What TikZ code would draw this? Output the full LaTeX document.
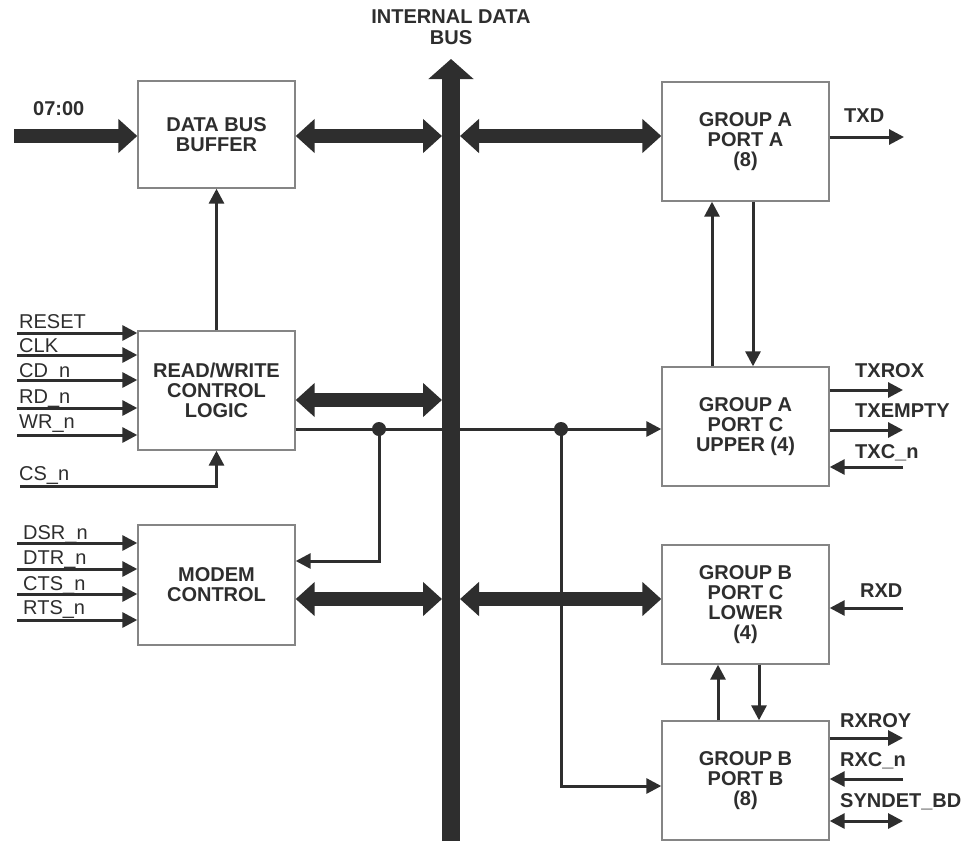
\documentclass[tikz,border=0pt]{standalone}
\usepackage{fontspec}
\setmainfont{Liberation Sans}
\usetikzlibrary{arrows.meta}
\definecolor{ink}{HTML}{2E2E2E}
\definecolor{frame}{HTML}{858585}

\begin{document}
\begin{tikzpicture}[x=1pt,y=-1pt,
  block/.style={draw=frame, line width=1.4pt, fill=white, inner sep=0pt,
    align=center, text=ink, font=\fontsize{20}{20}\selectfont\bfseries},
  lbl/.style={inner sep=0pt, anchor=base west, text=ink,
    font=\fontsize{20}{20}\selectfont},
  blbl/.style={lbl, font=\fontsize{20}{20}\selectfont\bfseries},
  sig/.style={draw=ink, line width=3pt, -{Triangle[width=15pt,length=15pt]}},
  sigboth/.style={draw=ink, line width=3pt,
    {Triangle[width=15pt,length=15pt]}-{Triangle[width=15pt,length=15pt]}},
  fat/.style={draw=ink, line width=14pt, -{Triangle[width=33pt,length=19pt]}},
  fatboth/.style={draw=ink, line width=14pt,
    {Triangle[width=33pt,length=19pt]}-{Triangle[width=33pt,length=19pt]}},
  dot/.style={circle, fill=ink, inner sep=0pt, minimum size=14pt}
]
% canvas
\fill[white] (0,0) rectangle (973,841);
\useasboundingbox (0,0) rectangle (973,841);

% ---------- blocks ----------
\node[block, minimum width=157pt, minimum height=107pt] (dbb)   at (216.5,134.5) {DATA BUS\\BUFFER};
\node[block, minimum width=157pt, minimum height=119pt] (rw)    at (216.5,390.5) {READ/WRITE\\CONTROL\\LOGIC};
\node[block, minimum width=157pt, minimum height=120pt] (modem) at (216.5,585)   {MODEM\\CONTROL};
\node[block, minimum width=167pt, minimum height=119pt] (pa)    at (745.5,141.5) {GROUP A\\PORT A\\(8)};
\node[block, minimum width=167pt, minimum height=119pt] (pcu)   at (745.5,426.5) {GROUP A\\PORT C\\UPPER (4)};
\node[block, minimum width=167pt, minimum height=119pt] (pcl)   at (745.5,604.5) {GROUP B\\PORT C\\LOWER\\(4)};
\node[block, minimum width=167pt, minimum height=119pt] (pb)    at (745.5,780.5) {GROUP B\\PORT B\\(8)};

% ---------- internal data bus ----------
\coordinate (busTop) at (451,59);
\coordinate (busBot) at (451,841);
\coordinate (busL) at (442,0);
\coordinate (busR) at (460,0);
\draw[draw=ink, line width=18pt, -{Triangle[width=44pt,length=20pt]}] (busBot) -- (busTop);
\node[inner sep=0pt, anchor=north, align=center, text=ink,
  font=\fontsize{20}{21}\selectfont\bfseries] (busName) at (451,9.5)
  {INTERNAL DATA\\BUS};

% ---------- row coordinates ----------
\coordinate (rowData) at (0,136);
\coordinate (rowRW) at (0,400);
\coordinate (rowMD) at (0,599);
\coordinate (rowCtl) at (0,429);

% ---------- wide data paths ----------
\coordinate (dIn) at (14,136);
\node[blbl] (l0700) at (33,115) {07:00};
\draw[fat] (dIn) -- (dIn -| dbb.west);
\draw[fatboth] (dbb.east |- rowData) -- (busL |- rowData);
\draw[fatboth] (busR |- rowData) -- (pa.west |- rowData);
\draw[fatboth] (rw.east |- rowRW) -- (busL |- rowRW);
\draw[fatboth] (modem.east |- rowMD) -- (busL |- rowMD);
\draw[fatboth] (busR |- rowMD) -- (pcl.west |- rowMD);

% ---------- read/write control inputs ----------
\coordinate (inReset) at (17,333);
\coordinate (inClk)   at (17,355);
\coordinate (inCd)    at (17,380);
\coordinate (inRd)    at (17,408);
\coordinate (inWr)    at (17,435);
\coordinate (inCs)    at (20,486);
\node[lbl] (lReset) at (19,328) {RESET};
\node[lbl] (lClk)   at (19,352) {CLK};
\node[lbl] (lCd)    at (19,377) {CD\_n};
\node[lbl] (lRd)    at (19,403) {RD\_n};
\node[lbl] (lWr)    at (19,428) {WR\_n};
\node[lbl] (lCs)    at (19,480) {CS\_n};
\foreach \p in {inReset,inClk,inCd,inRd,inWr}
  \draw[sig] (\p) -- (\p -| rw.west);
\draw[sig] (inCs) -| (rw.south);
\draw[sig] (rw.north) -- (dbb.south);

% ---------- modem inputs ----------
\coordinate (inDsr) at (17,543);
\coordinate (inDtr) at (17,569);
\coordinate (inCts) at (17,594);
\coordinate (inRts) at (17,620);
\node[lbl] (lDsr) at (23,539) {DSR\_n};
\node[lbl] (lDtr) at (23,564) {DTR\_n};
\node[lbl] (lCts) at (23,590) {CTS\_n};
\node[lbl] (lRts) at (23,614) {RTS\_n};
\foreach \p in {inDsr,inDtr,inCts,inRts}
  \draw[sig] (\p) -- (\p -| modem.west);

% ---------- control line ----------
\node[dot] (j1) at (379,429) {};
\node[dot] (j2) at (561,429) {};
\coordinate (mdCtl) at (0,561);
\coordinate (pbCtl) at (0,786);
\draw[sig] (rw.east |- rowCtl) -- (pcu.west |- rowCtl);
\draw[sig] (j1.center) |- (modem.east |- mdCtl);
\draw[sig] (j2.center) |- (pb.west |- pbCtl);

% ---------- port-to-port links ----------
\draw[sig] ([xshift=-33.5pt]pcu.north) -- ([xshift=-33.5pt]pa.south);
\draw[sig] ([xshift=7.5pt]pa.south) -- ([xshift=7.5pt]pcu.north);
\draw[sig] ([xshift=-27.5pt]pb.north) -- ([xshift=-27.5pt]pcl.south);
\draw[sig] ([xshift=13.5pt]pcl.south) -- ([xshift=13.5pt]pb.north);

% ---------- serial side signals ----------
\coordinate (oTxd)    at (904,137);
\coordinate (oTxrox)  at (903,390);
\coordinate (oTxempty)at (903,430);
\coordinate (iTxc)    at (903,467);
\coordinate (iRxd)    at (903,608);
\coordinate (oRxroy)  at (903,738);
\coordinate (iRxc)    at (903,779);
\coordinate (bSyn)    at (903,821);
\node[blbl] (lTxd)     at (844,122) {TXD};
\node[blbl] (lTxrox)   at (855,377) {TXROX};
\node[blbl] (lTxempty) at (855,417) {TXEMPTY};
\node[blbl] (lTxc)     at (855,458) {TXC\_n};
\node[blbl] (lRxd)     at (860,597) {RXD};
\node[blbl] (lRxroy)   at (840,727) {RXROY};
\node[blbl] (lRxc)     at (840,766) {RXC\_n};
\node[blbl] (lSyn)     at (840,807) {SYNDET\_BD};
\draw[sig] (pa.east |- oTxd) -- (oTxd);
\draw[sig] (pcu.east |- oTxrox) -- (oTxrox);
\draw[sig] (pcu.east |- oTxempty) -- (oTxempty);
\draw[sig] (iTxc) -- (iTxc -| pcu.east);
\draw[sig] (iRxd) -- (iRxd -| pcl.east);
\draw[sig] (pb.east |- oRxroy) -- (oRxroy);
\draw[sig] (iRxc) -- (iRxc -| pb.east);
\draw[sigboth] (pb.east |- bSyn) -- (bSyn);
\end{tikzpicture}
\end{document}
